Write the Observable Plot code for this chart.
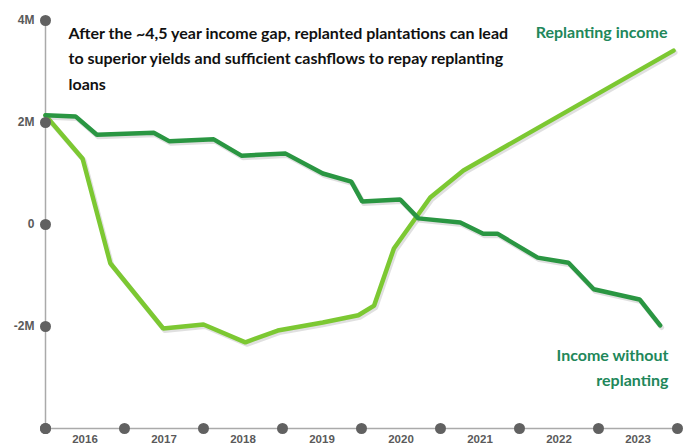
<!DOCTYPE html>
<html>
<head>
<meta charset="utf-8">
<script src="https://cdn.jsdelivr.net/npm/d3@7"></script>
<script src="https://cdn.jsdelivr.net/npm/@observablehq/plot@0.6"></script>
<style>
  html, body { margin: 0; padding: 0; background: #fff; }
  #chart { width: 685px; height: 446px; }
</style>
</head>
<body>
<div id="chart"></div>
<script>
// Income without replanting (year, million)
const withoutX = [2016.0, 2016.38, 2016.65, 2017.37, 2017.57, 2018.13, 2018.48, 2019.04, 2019.51, 2019.87, 2020.01, 2020.49, 2020.72, 2021.25, 2021.54, 2021.72, 2022.23, 2022.62, 2022.94, 2023.52, 2023.78];
const withoutY = [2.14, 2.12, 1.76, 1.80, 1.63, 1.67, 1.35, 1.39, 1.00, 0.84, 0.45, 0.49, 0.12, 0.04, -0.18, -0.18, -0.65, -0.75, -1.27, -1.47, -1.98];

// Replanting income (year, million)
const replantX = [2016.0, 2016.47, 2016.82, 2017.49, 2018.0, 2018.53, 2018.94, 2019.51, 2019.96, 2020.16, 2020.41, 2020.87, 2021.29, 2023.95];
const replantY = [2.14, 1.29, -0.76, -2.04, -1.96, -2.31, -2.08, -1.92, -1.78, -1.59, -0.47, 0.53, 1.06, 3.41];

const years = [2016, 2017, 2018, 2019, 2020, 2021, 2022, 2023, 2024];
const yearLabels = ["2016", "2017", "2018", "2019", "2020", "2021", "2022", "2023"];
const yTicks = [4, 2, 0, -2, -4];
const yTickLabels = ["4M", "2M", "0", "-2M", ""];

const titleText = "After the ~4,5 year income gap, replanted plantations can lead\nto superior yields and sufficient cashflows to repay replanting\nloans";
const labelReplant = "Replanting income";
const labelWithout = "Income without\nreplanting";

const withoutData = withoutX.map((x, i) => ({x, y: withoutY[i]}));
const replantData = replantX.map((x, i) => ({x, y: replantY[i]}));
const yTickData = yTicks.map((v, i) => ({v, label: yTickLabels[i]}));
const yearLabelData = yearLabels.map((l, i) => ({x: years[i] + 0.5, label: l}));

const darkGreen = "#2a9642";
const lightGreen = "#7cc832";
const labelGreen = "#21875a";
const axisFont = "'Liberation Sans', Arial, sans-serif";
const textFont = "Lato, 'Open Sans', sans-serif";

const chart = Plot.plot({
  width: 685,
  height: 446,
  marginLeft: 45,
  marginRight: 8,
  marginTop: 20,
  marginBottom: 18,
  x: {domain: [2016, 2024], axis: null},
  y: {domain: [-4, 4], axis: null},
  style: {background: "#fff", overflow: "visible"},
  marks: [
    // axis lines
    Plot.ruleX([2016], {y1: -4, y2: 4, stroke: "#aaa", strokeWidth: 1.5}),
    Plot.ruleY([-4], {x1: 2016, x2: 2024, stroke: "#aaa", strokeWidth: 1.5}),
    // shadows
    Plot.line(replantData, {x: "x", y: "y", stroke: "#000", strokeOpacity: 0.12, strokeWidth: 5, dx: 1.5, dy: 2}),
    Plot.line(withoutData, {x: "x", y: "y", stroke: "#000", strokeOpacity: 0.12, strokeWidth: 5, dx: 1.5, dy: 2}),
    // lines
    Plot.line(replantData, {x: "x", y: "y", stroke: lightGreen, strokeWidth: 4.5, strokeLinejoin: "miter"}),
    Plot.line(withoutData, {x: "x", y: "y", stroke: darkGreen, strokeWidth: 4.5, strokeLinejoin: "miter"}),
    // tick dots
    Plot.dot(yTickData, {x: () => 2016, y: "v", r: 5.5, fill: "#616161"}),
    Plot.dot(years, {x: d => d, y: () => -4, r: 5.5, fill: "#616161"}),
    // tick labels
    Plot.text(yTickData, {x: () => 2016, y: "v", text: "label", dx: -11, textAnchor: "end", fill: "#5a5a5a", fontSize: 12, fontWeight: "bold", fontFamily: axisFont}),
    Plot.text(yearLabelData, {x: "x", y: () => -4, text: "label", dy: 11, fill: "#5a5a5a", fontSize: 11.5, fontWeight: "bold", fontFamily: axisFont}),
    // title
    Plot.text([titleText], {frameAnchor: "top-left", dx: 23, dy: 0, lineAnchor: "top", textAnchor: "start", text: d => d, fill: "#111", fontSize: 16, fontWeight: "bold", lineHeight: 1.6, fontFamily: textFont}),
    // series labels
    Plot.text([labelReplant], {frameAnchor: "top-right", dx: -10, dy: 6, lineAnchor: "top", textAnchor: "end", text: d => d, fill: labelGreen, fontSize: 16, fontWeight: "bold", fontFamily: textFont}),
    Plot.text([labelWithout], {x: () => 2024, y: () => -2.77, dx: -9, textAnchor: "end", lineAnchor: "middle", text: d => d, fill: labelGreen, fontSize: 16, fontWeight: "bold", lineHeight: 1.55, fontFamily: textFont})
  ]
});
document.getElementById("chart").appendChild(chart);
</script>
</body>
</html>
